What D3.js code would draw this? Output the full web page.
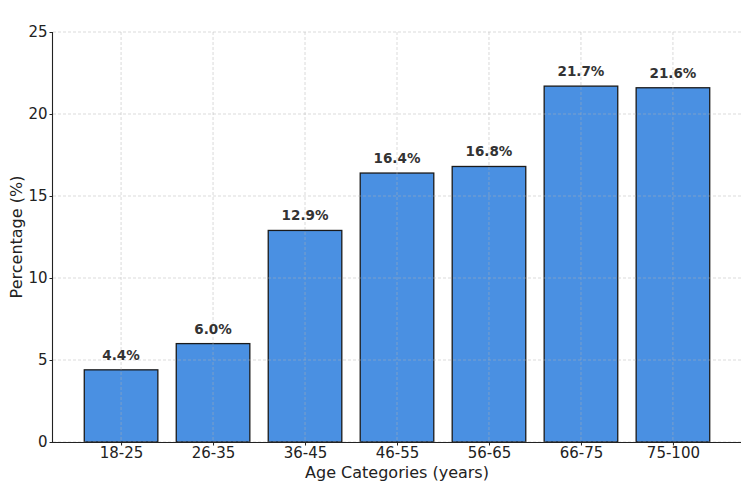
<!DOCTYPE html>
<html><head><meta charset="utf-8">
<script src="https://cdn.jsdelivr.net/npm/d3@7"></script>
<style>body{margin:0;background:#fff}svg{display:block}</style>
</head><body>
<script>
const categories = ["18-25","26-35","36-45","46-55","56-65","66-75","75-100"];
const values = [4.4, 6.0, 12.9, 16.4, 16.8, 21.7, 21.6];
const yTicks = [0,5,10,15,20,25];

const W=750,H=490;
const L=53,R=741,T=32,B=442;
const svg=d3.select("body").append("svg").attr("width",W).attr("height",H)
  .style("font-family","'DejaVu Sans', sans-serif");

const x=d3.scaleLinear().domain([-0.74,6.74]).range([L,R]);
const y=d3.scaleLinear().domain([0,25]).range([B,T]);
const bw=0.8;

// bars
svg.append("g").selectAll("rect").data(values).join("rect")
  .attr("x",(d,i)=>x(i-bw/2)).attr("width",(d,i)=>x(i+bw/2)-x(i-bw/2))
  .attr("y",d=>y(d)).attr("height",d=>y(0)-y(d))
  .attr("fill","#4a90e2").attr("stroke","#1a1a1a").attr("stroke-width",1.3);

// grid over bars
const grid=svg.append("g").attr("stroke","#b0b0b0").attr("stroke-opacity",0.6)
  .attr("stroke-dasharray","3,2").attr("stroke-width",0.8);
grid.selectAll("line.h").data(yTicks).join("line").attr("class","h")
  .attr("x1",L).attr("x2",R).attr("y1",d=>y(d)).attr("y2",d=>y(d));
grid.selectAll("line.v").data(categories).join("line").attr("class","v")
  .attr("x1",(d,i)=>x(i)).attr("x2",(d,i)=>x(i)).attr("y1",T).attr("y2",B);

// axes
const xAxis=d3.axisBottom(x).tickValues(d3.range(categories.length))
  .tickFormat(i=>categories[i]).tickSize(3.5).tickPadding(1.5);
const gx=svg.append("g").attr("transform",`translate(0,${B})`).call(xAxis);
const yAxis=d3.axisLeft(y).tickValues(yTicks).tickSize(3.5).tickPadding(2);
const gy=svg.append("g").attr("transform",`translate(${L},0)`).call(yAxis);
[gx,gy].forEach(g=>{
  g.select(".domain").attr("stroke","#222").attr("stroke-width",1.1);
  g.selectAll(".tick line").attr("stroke","#222");
  g.selectAll(".tick text").attr("fill","#222").style("font-size","15px").style("font-family","'DejaVu Sans', sans-serif");
});
gx.select(".domain").attr("d",`M${L},0.5H${R}`);
gy.select(".domain").attr("d",`M-0.5,${B}V${T}`);

// value labels
svg.append("g").selectAll("text").data(values).join("text")
  .attr("x",(d,i)=>x(i)).attr("y",d=>y(d)-10)
  .attr("text-anchor","middle").attr("fill","#333")
  .style("font-size","13.5px").style("font-weight","bold")
  .text(d=>d.toFixed(1)+"%");

// axis titles
svg.append("text").attr("x",(L+R)/2).attr("y",478).attr("text-anchor","middle")
  .attr("fill","#222").style("font-size","16px").text("Age Categories (years)");
svg.append("text").attr("transform",`translate(22,${(T+B)/2}) rotate(-90)`)
  .attr("text-anchor","middle").attr("fill","#222").style("font-size","16px").text("Percentage (%)");
</script>
</body></html>
